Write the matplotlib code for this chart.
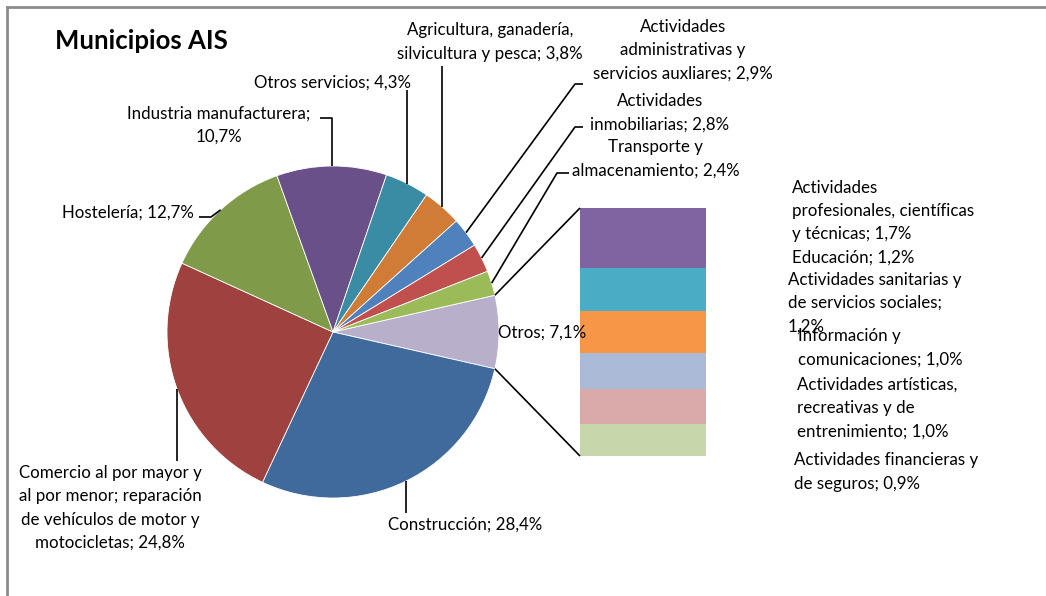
import matplotlib
matplotlib.use("Agg")
import matplotlib.pyplot as plt
import numpy as np

# ---------------- data ----------------
pie_labels = ["Otros", "Construcción",
              "Comercio al por mayor y\nal por menor; reparación\nde vehículos de motor y\nmotocicletas",
              "Hostelería", "Industria manufacturera;\n", "Otros servicios",
              "Agricultura, ganadería,\nsilvicultura y pesca",
              "Actividades\nadministrativas y\nservicios auxliares",
              "Actividades\ninmobiliarias", "Transporte y\nalmacenamiento"]
pie_values = [7.1, 28.4, 24.8, 12.7, 10.7, 4.3, 3.8, 2.9, 2.8, 2.4]
pie_colors = ["#B8AFCB", "#416A9C", "#9E413F", "#7F9A48", "#6A5088", "#3A8CA5",
              "#D07C37", "#4F81BD", "#C0504D", "#9BBB59"]

bar_labels = ["Actividades\nprofesionales, científicas\ny técnicas", "Educación",
              "Actividades sanitarias y\nde servicios sociales;\n", "Información y\ncomunicaciones",
              "Actividades artísticas,\nrecreativas y de\nentrenimiento",
              "Actividades financieras y\nde seguros"]
bar_values = [1.7, 1.2, 1.2, 1.0, 1.0, 0.9]
bar_colors = ["#8064A2", "#4BACC6", "#F79646", "#AABAD7", "#D9AAA9", "#C5D6AA"]

title = "Municipios AIS"

def pct(v):
    return f"{v:.1f}".replace(".", ",") + "%"

# ---------------- layout ----------------
W, H = 1046, 596
FONT = "Lato"
FS = 12.2
fig = plt.figure(figsize=(W / 100, H / 100), dpi=100)
ax = fig.add_axes([0, 0, 1, 1])
ax.set_zorder(2)
ax.patch.set_visible(False)

def Y(py):
    return H - py

CX, CY, R = 333, 332, 166
total = sum(pie_values)
wedges, _ = ax.pie(pie_values, colors=pie_colors, startangle=180 * pie_values[0] / total,
                   counterclock=False, center=(CX, Y(CY)), radius=R,
                   wedgeprops=dict(edgecolor="white", linewidth=0.6))
ax.set_xlim(0, W)
ax.set_ylim(0, H)
ax.set_aspect("equal")
ax.axis("off")

def edge_pt(angle_deg):
    a = np.deg2rad(angle_deg)
    return CX + R * np.cos(a), Y(CY) + R * np.sin(a)

def mid_pt(i):
    w = wedges[i]
    return edge_pt((w.theta1 + w.theta2) / 2)

lk = dict(color="black", lw=1.2, solid_capstyle="butt")
tk = dict(fontfamily=FONT, fontsize=FS, color="black", linespacing=1.55)

# bar of pie
BX0, BX1, BTOP, BBOT = 580, 706, 208, 456
ax2 = fig.add_axes([BX0 / W, Y(BBOT) / H, (BX1 - BX0) / W, (BBOT - BTOP) / H])
ax2.set_zorder(1)
bottoms = np.cumsum([0] + bar_values[::-1])[:-1]
ax2.bar(0, bar_values[::-1], bottom=bottoms, width=1.0, color=bar_colors[::-1], linewidth=0)
ax2.set_xlim(-0.5, 0.5)
ax2.set_ylim(0, sum(bar_values))
ax2.axis("off")

# connectors
w0 = wedges[0]
p_top = edge_pt(max(w0.theta1, w0.theta2))
p_bot = edge_pt(min(w0.theta1, w0.theta2))
ax.plot([p_top[0], BX0], [p_top[1], Y(BTOP)], **lk)
ax.plot([p_bot[0], BX0], [p_bot[1], Y(BBOT)], **lk)

# title
ax.text(55, Y(41), title, fontfamily=FONT, fontsize=18.5, fontweight="bold", va="center", ha="left")

# pie labels
ax.text(498, Y(333), f"{pie_labels[0]}; {pct(pie_values[0])}", ha="left", va="center", **tk)
# Construcción
x, y = mid_pt(1)
ax.plot([x, x], [y, Y(513)], **lk)
ax.text(465, Y(525), f"{pie_labels[1]}; {pct(pie_values[1])}", ha="center", va="center", **tk)
# Comercio
x, y = mid_pt(2)
ax.plot([x, x], [y, Y(461)], **lk)
ax.text(110, Y(508), f"{pie_labels[2]}; {pct(pie_values[2])}", ha="center", va="center", **tk)
# Hostelería
x, y = mid_pt(3)
ax.plot([199, 211, x], [Y(217), Y(217), y], **lk)
ax.text(128, Y(213), f"{pie_labels[3]}; {pct(pie_values[3])}", ha="center", va="center", **tk)
# Industria
x, y = mid_pt(4)
ax.plot([320, x, x], [Y(118), Y(118), y], **lk)
ax.text(219, Y(125), f"Industria manufacturera;\n{pct(pie_values[4])}", ha="center", va="center", **tk)
# Otros servicios
x, y = mid_pt(5)
ax.plot([x, x], [Y(90), y], **lk)
ax.text(333, Y(83), f"{pie_labels[5]}; {pct(pie_values[5])}", ha="center", va="center", **tk)
# Agricultura
x, y = mid_pt(6)
ax.plot([x, x], [Y(66), y], **lk)
ax.text(490, Y(42), f"{pie_labels[6]}; {pct(pie_values[6])}", ha="center", va="center", **tk)
# Administrativas
x, y = mid_pt(7)
ax.plot([583, 575, x], [Y(84), Y(84), y], **lk)
ax.text(683, Y(50), f"{pie_labels[7]}; {pct(pie_values[7])}", ha="center", va="center", **tk)
# Inmobiliarias
x, y = mid_pt(8)
ax.plot([583, 575, x], [Y(127), Y(127), y], **lk)
ax.text(660, Y(113), f"{pie_labels[8]}; {pct(pie_values[8])}", ha="center", va="center", **tk)
# Transporte
x, y = mid_pt(9)
ax.plot([569, 557, x], [Y(173), Y(173), y], **lk)
ax.text(656, Y(159), f"{pie_labels[9]}; {pct(pie_values[9])}", ha="center", va="center", **tk)

# bar labels
bar_pos = [(792, 211), (792, 258), (788, 303), (798, 348), (797, 408), (794, 472)]
for lab, v, (px, py) in zip(bar_labels, bar_values, bar_pos):
    sep = "" if lab.endswith("\n") else "; "
    ax.text(px, Y(py), f"{lab}{sep}{pct(v)}", ha="left", va="center", **tk)

# border
ax.plot([7, W], [Y(7), Y(7)], color="#8C8C8C", lw=2)
ax.plot([7, 7], [Y(7), 0], color="#8C8C8C", lw=2)

fig.savefig("out.png", dpi=100)
